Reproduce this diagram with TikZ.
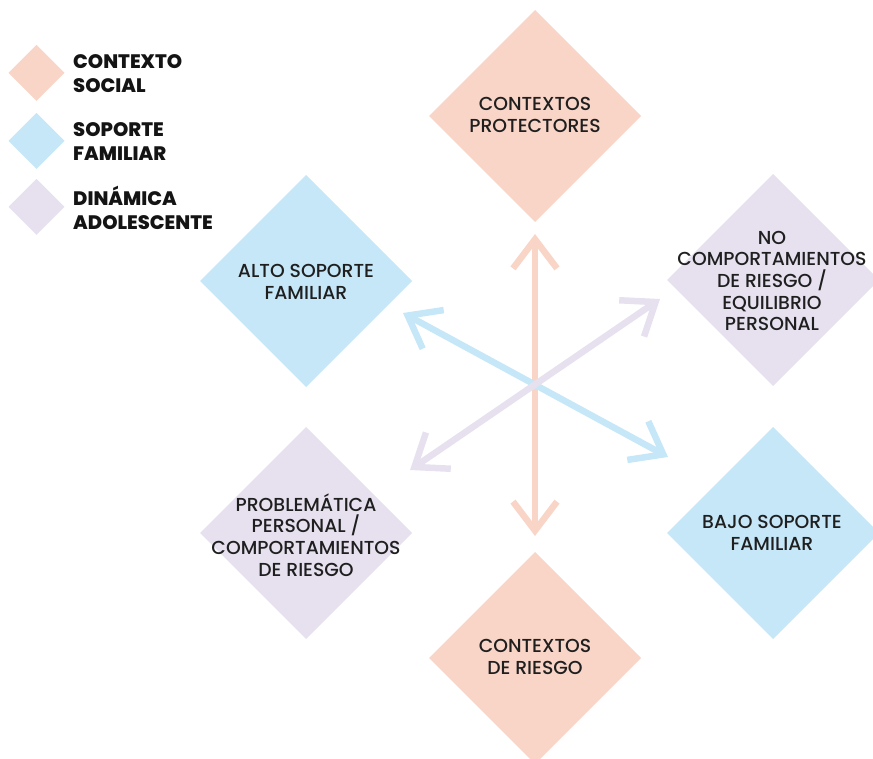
\documentclass[tikz,border=0pt]{standalone}
\usepackage{fontspec}
\setmainfont{Poppins}[UprightFont=* Medium,BoldFont=* ExtraBold]
\usetikzlibrary{arrows.meta}

\definecolor{social}{HTML}{F9D5C8}
\definecolor{familia}{HTML}{C6E7F7}
\definecolor{adolesc}{HTML}{E7E1EF}

\tikzset{
  rombo/.style={fill=#1,draw=none},
  rotulo/.style={align=center,text=black!88,inner sep=0pt,
    font=\fontsize{18.8}{21.7}\selectfont},
  leyenda/.style={align=left,anchor=west,text=black!92,inner sep=0pt,
    font=\fontsize{19.5}{24}\selectfont\bfseries},
  flecha/.style={draw=#1,line width=6.5pt,
    {Straight Barb[length=29pt,width=44pt,sharp]}-{Straight Barb[length=29pt,width=44pt,sharp]}}
}

\begin{document}
\begin{tikzpicture}[x=1pt,y=-1pt]
\useasboundingbox (0,0) rectangle (873,759);

% diamonds
\fill[rombo=social]  (535,10)  -- ++(106,106) -- ++(-106,106) -- ++(-106,-106) -- cycle;
\fill[rombo=social]  (535,552) -- ++(106,106) -- ++(-106,106) -- ++(-106,-106) -- cycle;
\fill[rombo=familia] (306,175) -- ++(106,106) -- ++(-106,106) -- ++(-106,-106) -- cycle;
\fill[rombo=familia] (773,427) -- ++(106,106) -- ++(-106,106) -- ++(-106,-106) -- cycle;
\fill[rombo=adolesc] (773,174) -- ++(106,106) -- ++(-106,106) -- ++(-106,-106) -- cycle;
\fill[rombo=adolesc] (306,427) -- ++(106,106) -- ++(-106,106) -- ++(-106,-106) -- cycle;

\node[rotulo] (protect) at (535,115) {CONTEXTOS\\PROTECTORES};
\node[rotulo] (riesgo)  at (535,657) {CONTEXTOS\\DE RIESGO};
\node[rotulo] (alto)    at (306,282) {ALTO SOPORTE\\FAMILIAR};
\node[rotulo] (bajo)    at (772,533) {BAJO SOPORTE\\FAMILIAR};
\node[rotulo] (equil)   at (772,281) {NO\\COMPORTAMIENTOS\\DE RIESGO /\\EQUILIBRIO\\PERSONAL};
\node[rotulo] (proble)  at (306,535) {PROBLEMÁTICA\\PERSONAL /\\COMPORTAMIENTOS\\DE RIESGO};

% arrows
\coordinate (vsup) at (535,234);
\coordinate (vinf) at (535,536);
\coordinate (azi)  at (403,313);
\coordinate (azd)  at (668,457);
\coordinate (lvd)  at (660,299);
\coordinate (lvi)  at (410,470);
\draw[flecha=social]  (vsup) -- (vinf);
\draw[flecha=familia] (azi) -- (azd);
\draw[flecha=adolesc] (lvd) -- (lvi);

% legend
\foreach \c/\y/\t in {social/73/{CONTEXTO\\SOCIAL},familia/141/{SOPORTE\\FAMILIAR},adolesc/207/{DINÁMICA\\ADOLESCENTE}} {
  \fill[rombo=\c] (36.5,\y-28) -- ++(28,28) -- ++(-28,28) -- ++(-28,-28) -- cycle;
  \node[leyenda] (ley-\c) at (73,\y+1) {\t};
}
\end{tikzpicture}
\end{document}
